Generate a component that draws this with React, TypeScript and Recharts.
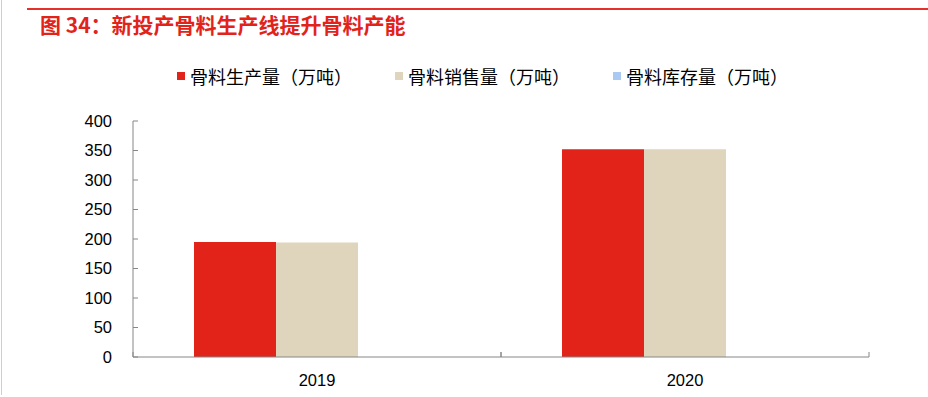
import React from 'react';
import { BarChart, Bar, XAxis, YAxis } from 'recharts';

const years = ['2019', '2020'];
const productionValues = [195, 352];
const salesValues = [194, 352];
const inventoryValues = [0, 0];
const yTicks = [0, 50, 100, 150, 200, 250, 300, 350, 400];

const titleText = '图 34：新投产骨料生产线提升骨料产能';
const seriesNames = ['骨料生产量（万吨）', '骨料销售量（万吨）', '骨料库存量（万吨）'];
const seriesKeys = ['prod', 'sales', 'inv'];
const seriesColors = ['#E2231A', '#DFD5BD', '#A9C9F3'];

const data = years.map((y, i) => ({
  year: y,
  prod: productionValues[i],
  sales: salesValues[i],
  inv: inventoryValues[i],
}));

const AXIS = '#868686';
const NUM_FONT = '"Liberation Sans", Arial, sans-serif';
const CJK_FONT = '"Noto Sans CJK SC", "Noto Sans", sans-serif';

const YTick = (props: any) => {
  const { x, y, payload } = props;
  return (
    <g>
      <text x={x} y={y} dy="0.36em" textAnchor="end" fontSize={16.5} fill="#000" fontFamily={NUM_FONT}>
        {payload.value}
      </text>
      <line x1={x + 21} x2={x + 26} y1={y} y2={y} stroke={AXIS} strokeWidth={1} />
    </g>
  );
};

const XTick = (props: any) => {
  const { x, y, payload } = props;
  const off = payload && payload.offset != null ? payload.offset : 184;
  return (
    <g>
      <line x1={x - off} x2={x - off} y1={y} y2={y - 5} stroke={AXIS} strokeWidth={1} />
      <line x1={x + off} x2={x + off} y1={y} y2={y - 5} stroke={AXIS} strokeWidth={1} />
      <text x={x} y={y + 23} dy="0.36em" textAnchor="middle" fontSize={16.5} fill="#000" fontFamily={NUM_FONT}>
        {payload.value}
      </text>
    </g>
  );
};

export default function App() {
  return (
    <div style={{ position: 'absolute', left: 0, top: 0, width: 928, height: 397, background: '#fff', overflow: 'hidden' }}>
      <div style={{ position: 'absolute', left: 1, top: 0, width: 1, height: 395, background: '#cfcfcf' }} />
      <div style={{ position: 'absolute', left: 27, top: 8, width: 901, height: 2, background: '#E4322B' }} />
      <div
        style={{
          position: 'absolute',
          left: 40,
          top: 14,
          fontFamily: CJK_FONT,
          fontSize: 21,
          lineHeight: '21px',
          fontWeight: 700,
          color: '#E2231A',
          whiteSpace: 'nowrap',
        }}
      >
        {titleText}
      </div>
      <div
        style={{
          position: 'absolute',
          left: 177,
          top: 67,
          display: 'flex',
          alignItems: 'center',
          fontFamily: CJK_FONT,
          fontSize: 18,
          lineHeight: '18px',
          color: '#000',
          whiteSpace: 'nowrap',
        }}
      >
        {seriesNames.map((n, i) => (
          <div key={n} style={{ display: 'flex', alignItems: 'center', marginRight: 43 }}>
            <div style={{ width: 8, height: 8, background: seriesColors[i], marginRight: 5 }} />
            <span>{n}</span>
          </div>
        ))}
      </div>
      <div style={{ position: 'absolute', left: 0, top: 0 }}>
        <BarChart
          width={928}
          height={397}
          data={data}
          margin={{ top: 121, right: 59, bottom: 0, left: 0 }}
          barGap={0}
          barCategoryGap={61}
        >
          <XAxis
            dataKey="year"
            height={40}
            tickSize={0}
            tickMargin={0}
            tickLine={false}
            axisLine={{ stroke: AXIS, strokeWidth: 1 }}
            tick={<XTick />}
            interval={0}
          />
          <YAxis
            width={133}
            domain={[0, 400]}
            ticks={yTicks}
            tickSize={0}
            tickMargin={21}
            tickLine={false}
            axisLine={{ stroke: AXIS, strokeWidth: 1 }}
            tick={<YTick />}
            interval={0}
          />
          {seriesKeys.map((k, i) => (
            <Bar key={k} dataKey={k} name={seriesNames[i]} fill={seriesColors[i]} isAnimationActive={false} />
          ))}
        </BarChart>
      </div>
    </div>
  );
}
